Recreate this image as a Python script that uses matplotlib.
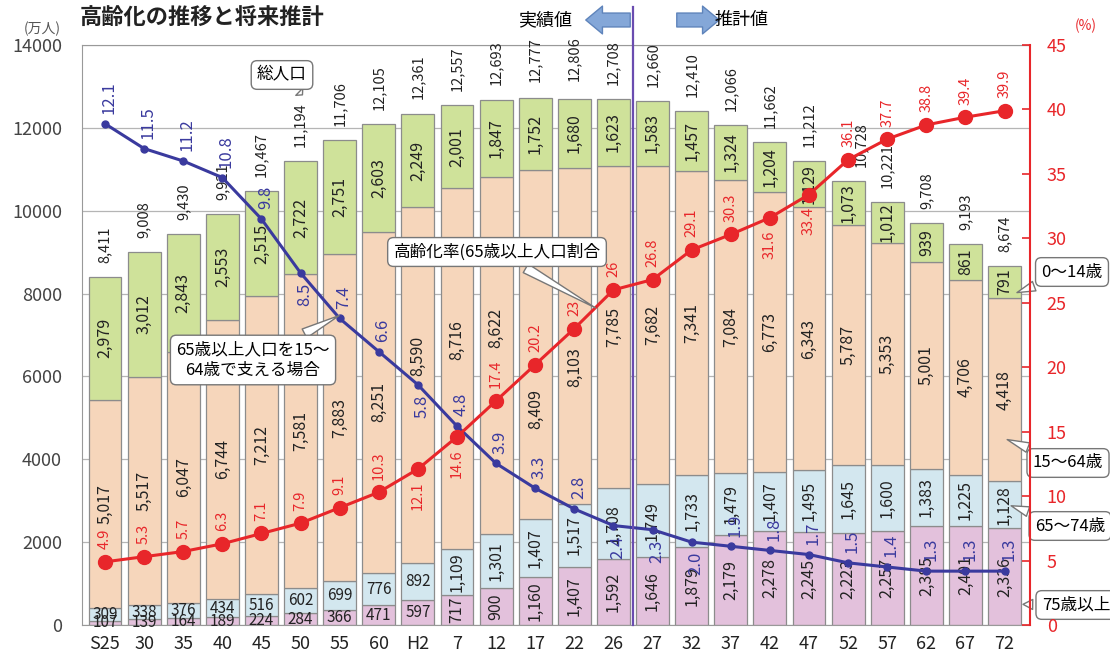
import numpy as np
import matplotlib.pyplot as plt

plt.rcParams['font.family'] = ['Noto Sans CJK JP', 'DejaVu Sans']

labels = ["S25", "30", "35", "40", "45", "50", "55", "60", "H2", "7", "12", "17",
          "22", "26", "27", "32", "37", "42", "47", "52", "57", "62", "67", "72"]
total = [8411, 9008, 9430, 9921, 10467, 11194, 11706, 12105, 12361, 12557, 12693, 12777,
         12806, 12708, 12660, 12410, 12066, 11662, 11212, 10728, 10221, 9708, 9193, 8674]
age0_14 = [2979, 3012, 2843, 2553, 2515, 2722, 2751, 2603, 2249, 2001, 1847, 1752,
           1680, 1623, 1583, 1457, 1324, 1204, 1129, 1073, 1012, 939, 861, 791]
age15_64 = [5017, 5517, 6047, 6744, 7212, 7581, 7883, 8251, 8590, 8716, 8622, 8409,
            8103, 7785, 7682, 7341, 7084, 6773, 6343, 5787, 5353, 5001, 4706, 4418]
age65_74 = [309, 338, 376, 434, 516, 602, 699, 776, 892, 1109, 1301, 1407,
            1517, 1708, 1749, 1733, 1479, 1407, 1495, 1645, 1600, 1383, 1225, 1128]
age75 = [107, 139, 164, 189, 224, 284, 366, 471, 597, 717, 900, 1160,
         1407, 1592, 1646, 1879, 2179, 2278, 2245, 2223, 2257, 2385, 2401, 2336]
aging_rate = [4.9, 5.3, 5.7, 6.3, 7.1, 7.9, 9.1, 10.3, 12.1, 14.6, 17.4, 20.2,
              23, 26, 26.8, 29.1, 30.3, 31.6, 33.4, 36.1, 37.7, 38.8, 39.4, 39.9]
support = [12.1, 11.5, 11.2, 10.8, 9.8, 8.5, 7.4, 6.6, 5.8, 4.8, 3.9, 3.3,
           2.8, 2.4, 2.3, 2.0, 1.9, 1.8, 1.7, 1.5, 1.4, 1.3, 1.3, 1.3]

# label placement tweaks
red_below = {8, 9, 17, 18}
blue_below = {5, 8, 13, 14, 15}
mid_shift = {8: 700, 9: 700, 10: 650, 11: -1550, 12: -750}   # 15-64 labels moved off the lines
total_dx = {19: 9}

x = np.arange(len(labels))
W, H = 1110, 658
fig = plt.figure(figsize=(W / 100, H / 100), dpi=100)
ax = fig.add_axes([81.5 / W, 33 / H, (1030 - 81.5) / W, (625 - 45) / H])

col_75 = "#e3c1dc"
col_65 = "#d3e7ef"
col_15 = "#f6d6bb"
col_0 = "#cfe29a"
edge = "#8c8c8c"

segments = [(age75, col_75), (age65_74, col_65), (age15_64, col_15), (age0_14, col_0)]
bottom = np.zeros(len(x))
for k, (vals, c) in enumerate(segments):
    vals = np.array(vals)
    ax.bar(x, vals, width=0.84, bottom=bottom, color=c, edgecolor=edge, linewidth=0.9, zorder=2)
    for i in range(len(x)):
        rot = 90
        fs = 11.5
        if k < 2 and i < 9:
            rot = 0
            fs = 11
        yc = bottom[i] + vals[i] / 2
        if k == 2:
            yc += mid_shift.get(i, 0)
        ax.text(x[i], yc, f"{vals[i]:,}", rotation=rot,
                ha="center", va="center", fontsize=fs, color="#222", zorder=5)
    bottom += vals

for i, t in enumerate(total):
    ax.annotate(f"{t:,}", (x[i], t), xytext=(total_dx.get(i, 0), 10), textcoords="offset points",
                rotation=90, ha="center", va="bottom", fontsize=10.5, color="#222",
                annotation_clip=False, zorder=5)

ax.set_xlim(-0.6, 23.65)
ax.set_ylim(0, 14000)
ax.set_yticks(range(0, 14001, 2000))
ax.set_xticks(x)
ax.set_xticklabels(labels)
ax.tick_params(axis="y", length=0, pad=14, labelsize=13, labelcolor="#444")
ax.tick_params(axis="x", length=0, pad=7, labelsize=13, labelcolor="#222")
ax.yaxis.grid(True, color="#b5b5b5", linewidth=0.9)
ax.set_axisbelow(True)
for s in ["left", "top", "bottom"]:
    ax.spines[s].set_color("#999")
ax.spines["right"].set_visible(False)

# support ratio (people 15-64 per person 65+), drawn against the left axis x1000
sup_y = np.array(support) * 1000
ax.plot(x, sup_y, color="#3a3a9e", linewidth=2.2, marker="o", markersize=5, zorder=6)
for i, v in enumerate(support):
    if i in blue_below:
        ax.annotate(f"{v:.1f}", (x[i], sup_y[i]), xytext=(3, -7), textcoords="offset points",
                    rotation=90, ha="center", va="top", fontsize=12, color="#3a3a9e", zorder=7)
    else:
        ax.annotate(f"{v:.1f}", (x[i], sup_y[i]), xytext=(3, 7), textcoords="offset points",
                    rotation=90, ha="center", va="bottom", fontsize=12, color="#3a3a9e", zorder=7)

# aging rate on right axis
ax2 = ax.twinx()
ax2.set_ylim(0, 45)
ax2.set_yticks(range(0, 46, 5))
ax2.tick_params(axis="y", colors="#e8262a", labelsize=13, direction="in", length=6, width=1.2, pad=12)
for s in ["left", "top", "bottom"]:
    ax2.spines[s].set_visible(False)
ax2.spines["right"].set_color("#e8262a")
ax2.spines["right"].set_linewidth(1.5)
ax2.plot(x, aging_rate, color="#e8262a", linewidth=2.2, marker="o", markersize=10, zorder=6)
for i, v in enumerate(aging_rate):
    txt = f"{v:g}"
    if i in red_below:
        ax2.annotate(txt, (x[i], v), xytext=(0, -9), textcoords="offset points",
                     rotation=90, ha="center", va="top", fontsize=10.5, color="#e8262a")
    else:
        ax2.annotate(txt, (x[i], v), xytext=(0, 9), textcoords="offset points",
                     rotation=90, ha="center", va="bottom", fontsize=10.5, color="#e8262a")

# boundary between actual and projected
ax.axvline(13.5, ymin=0, ymax=1.065, color="#6a4cb0", linewidth=1.6, clip_on=False, zorder=8)

box = dict(boxstyle="round,pad=0.35", fc="white", ec="#777", lw=1)
wedge = dict(arrowstyle="wedge,tail_width=0.6,shrink_factor=0.5", fc="white", ec="#777", lw=1)

ax.annotate("総人口", xy=(5.1, 12750), xytext=(282, H - 75), textcoords="figure pixels",
            ha="center", va="center", fontsize=12, bbox=box, arrowprops=wedge, zorder=9)
ax2.annotate("高齢化率(65歳以上人口割合", xy=(12.6, 24.5), xytext=(497, H - 252),
             textcoords="figure pixels", ha="center", va="center", fontsize=12,
             bbox=box, arrowprops=wedge, zorder=9)
ax.annotate("65歳以上人口を15～\n64歳で支える場合", xy=(6.05, 7500), xytext=(253, H - 360),
            textcoords="figure pixels", ha="center", va="center", fontsize=12,
            linespacing=1.3, bbox=box, arrowprops=wedge, zorder=9)

side = [("0～14歳", (23.25, 8000), (1072, H - 272)),
        ("15～64歳", (23.0, 4500), (1068, H - 463)),
        ("65～74歳", (23.1, 2900), (1070, H - 526)),
        ("75歳以上", (23.4, 500), (1076, H - 605))]
for txt, tip, pos in side:
    ax.annotate(txt, xy=tip, xytext=pos, textcoords="figure pixels", ha="center", va="center",
                fontsize=12, bbox=box, arrowprops=wedge, annotation_clip=False, zorder=9)

# header texts
fig.text(80 / W, 1 - 18 / H, "高齢化の推移と将来推計", ha="left", va="center",
         fontsize=16, fontweight="bold", color="#222")
fig.text(42 / W, 1 - 29 / H, "(万人)", ha="center", va="center", fontsize=10, color="#555")
fig.text(1086 / W, 1 - 26 / H, "(%)", ha="center", va="center", fontsize=10, color="#e8262a")
fig.text(545 / W, 1 - 20 / H, "実績値", ha="center", va="center", fontsize=13)
fig.text(742 / W, 1 - 20 / H, "推計値", ha="center", va="center", fontsize=13)
arr = dict(arrowstyle="simple,head_length=0.6,head_width=1.0,tail_width=0.5",
           fc="#84a7d8", ec="#5f84bb", mutation_scale=20)
ax.annotate("", xy=(583, H - 20), xytext=(633, H - 20), xycoords="figure pixels",
            textcoords="figure pixels", arrowprops=arr)
ax.annotate("", xy=(722, H - 20), xytext=(674, H - 20), xycoords="figure pixels",
            textcoords="figure pixels", arrowprops=arr)

fig.savefig("out.png", dpi=100)
